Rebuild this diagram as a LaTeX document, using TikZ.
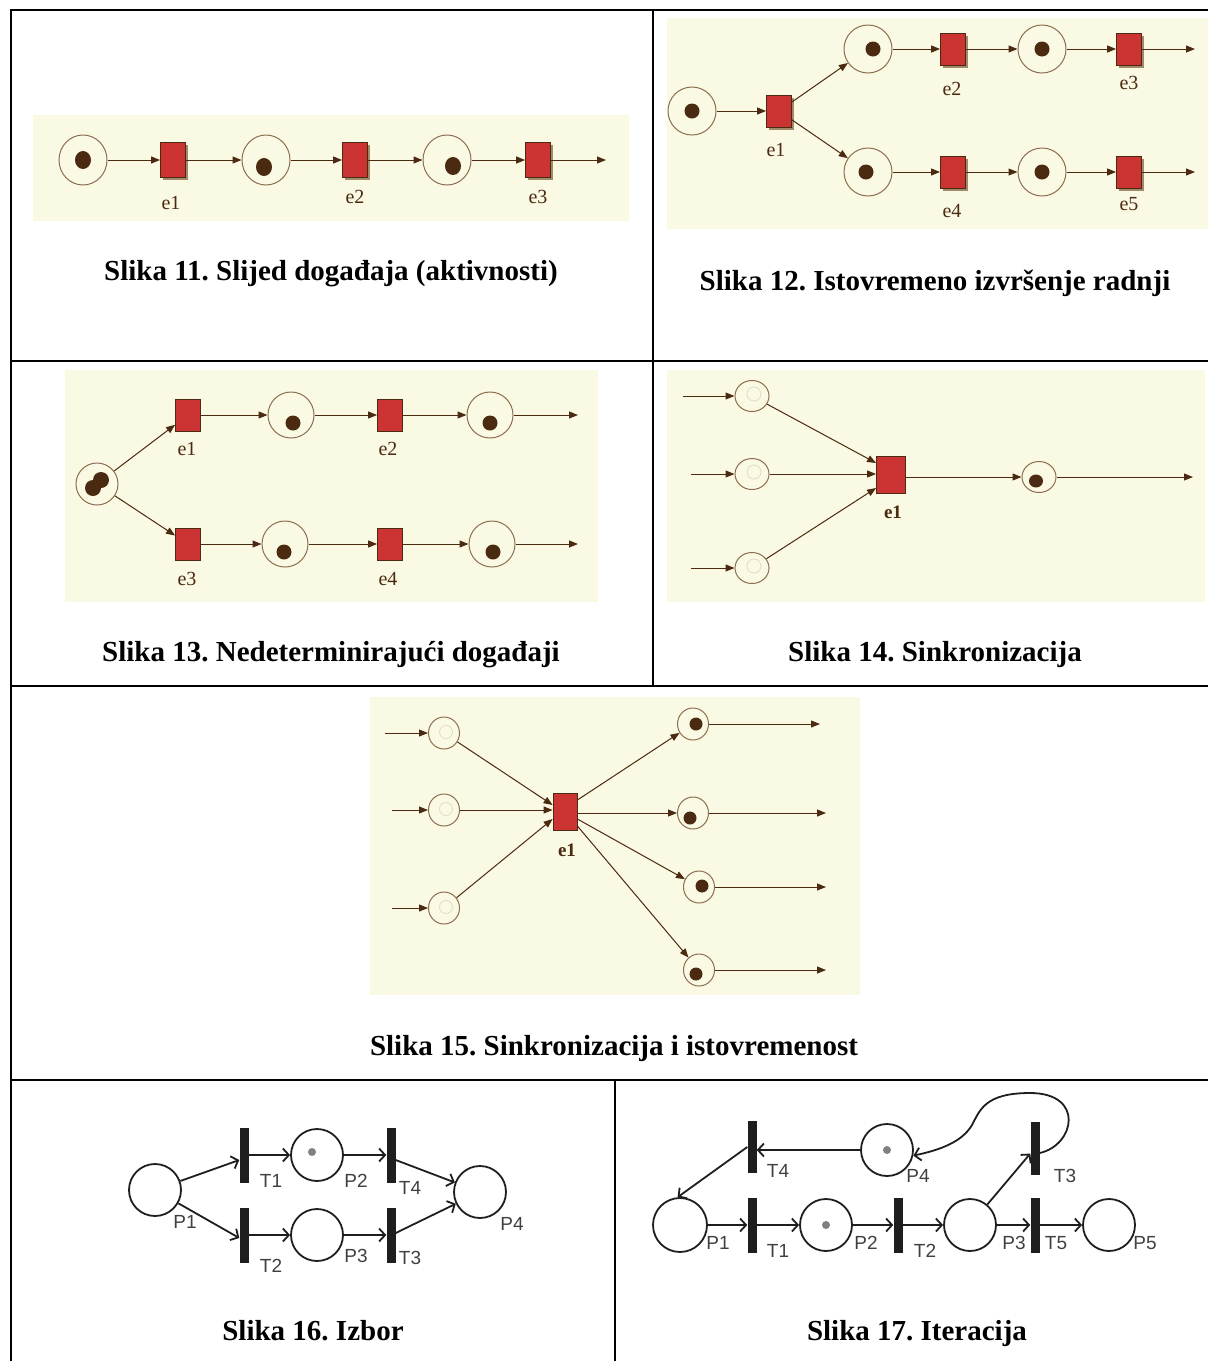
\documentclass[tikz,border=0pt]{standalone}
\usepackage{fontspec}
\setmainfont{Liberation Serif}
\setsansfont{Liberation Sans}
\frenchspacing
\usetikzlibrary{positioning,
	arrows.meta,
	shapes.geometric,
	shadows}
\definecolor{bgpetri}{HTML}{FAF9E3}
\definecolor{arcbrown}{HTML}{4A2A10}
\definecolor{ringbrown}{HTML}{8C6E50}
\definecolor{transred}{HTML}{CC3333}
\definecolor{shadowtan}{HTML}{A08A6A}
\definecolor{ghostring}{HTML}{E0DCC4}
\definecolor{netgray}{HTML}{1E1E1E}
\tikzset{
	place/.style={ellipse, draw=ringbrown, line width=1pt, minimum width=48pt, minimum height=50pt, inner sep=0pt},
	smallplace/.style={place, minimum width=34pt, minimum height=31pt},
	trans/.style={rectangle, draw=arcbrown, fill=transred, line width=0.8pt, minimum width=25pt, minimum height=35pt, inner sep=0pt},
	shadowtrans/.style={trans, drop shadow={shadow xshift=2.5pt, shadow yshift=-2.5pt, fill=shadowtan, opacity=1}},
	arc/.style={draw=arcbrown, line width=1pt, -{Triangle[length=9pt,width=7pt]}},
	token/.style={fill=arcbrown},
	ghost/.style={draw=ghostring, line width=0.8pt},
	elabel/.style={font=\fontsize{20}{20}\selectfont, text=arcbrown, inner sep=0pt},
	eboldlabel/.style={font=\bfseries\fontsize{19}{19}\selectfont, text=arcbrown, inner sep=0pt},
	pnplace/.style={circle, draw=netgray, line width=1.8pt, minimum size=52pt, inner sep=0pt},
	bar/.style={rectangle, fill=netgray, minimum width=9pt, minimum height=55pt, inner sep=0pt},
	pnarc/.style={draw=netgray, line width=1.8pt, -{Straight Barb[length=6pt,width=13pt]}},
	pnlabel/.style={font=\sffamily\fontsize{19}{19}\selectfont, text=netgray!85, inner sep=0pt},
	caption/.style={font=\bfseries\fontsize{29}{32}\selectfont, inner sep=0pt}
}

\begin{document}
\begin{tikzpicture}[x=1pt, y=-1pt]
	\useasboundingbox (0,0) rectangle (1208,1361);
	% table rules
	\draw[line width=2pt] (11,1361) -- (11,10) -- (1208,10);
	\draw[line width=2pt] (653,10) -- (653,686);
	\draw[line width=2pt] (11,361) -- (1208,361);
	\draw[line width=2pt] (11,686) -- (1208,686);
	\draw[line width=2pt] (11,1080) -- (1208,1080);
	\draw[line width=2pt] (615,1080) -- (615,1361);

	% Slika 11
	\fill[bgpetri] (33,115) rectangle (629,221);
	\node[place] (pA) at (83,160) {};
	\node[shadowtrans] (tA) at (173,160) {};
	\node[place] (pB) at (266,160) {};
	\node[shadowtrans] (tB) at (355,160) {};
	\node[place] (pC) at (447,160) {};
	\node[shadowtrans] (tC) at (538,160) {};
	\coordinate (endA) at (606,160);
	\fill[token] (pA.center) ellipse (8pt and 9pt);
	\fill[token] (pB.center) ++(-2,7) ellipse (8pt and 9pt);
	\fill[token] (pC.center) ++(6,6) ellipse (8pt and 9pt);
	\draw[arc] (pA) -- (tA);
	\draw[arc] (tA) -- (pB);
	\draw[arc] (pB) -- (tB);
	\draw[arc] (tB) -- (pC);
	\draw[arc] (pC) -- (tC);
	\draw[arc] (tC) -- (endA);
	\node[elabel] (lA1) at (171,203) {e1};
	\node[elabel] (lA2) at (355,197) {e2};
	\node[elabel] (lA3) at (538,197) {e3};
	\node[caption] (capA) at (331,274) {Slika 11. Slijed događaja (aktivnosti)};

	% Slika 12
	\fill[bgpetri] (667,18) rectangle (1208,229);
	\node[place, minimum height=48pt] (q0) at (692,111) {};
	\node[shadowtrans, minimum height=32pt] (te1) at (779,111) {};
	\node[place, minimum height=48pt] (q1) at (868,49) {};
	\node[shadowtrans, minimum height=32pt] (te2) at (953,49) {};
	\node[place, minimum height=48pt] (q2) at (1042,49) {};
	\node[shadowtrans, minimum height=32pt] (te3) at (1129,49) {};
	\node[place, minimum height=48pt] (q3) at (868,172) {};
	\node[shadowtrans, minimum height=32pt] (te4) at (953,172) {};
	\node[place, minimum height=48pt] (q4) at (1042,172) {};
	\node[shadowtrans, minimum height=32pt] (te5) at (1129,172) {};
	\coordinate (endB1) at (1195,49);
	\coordinate (endB2) at (1195,172);
	\foreach \p/\dx in {q0/0, q1/5, q2/0, q3/-2, q4/0}
		\fill[token] (\p.center) ++(\dx,0) circle (7.5pt);
	\draw[arc] (q0) -- (te1);
	\draw[arc] (te1) -- (q1);
	\draw[arc] (te1) -- (q3);
	\draw[arc] (q1) -- (te2);
	\draw[arc] (te2) -- (q2);
	\draw[arc] (q2) -- (te3);
	\draw[arc] (te3) -- (endB1);
	\draw[arc] (q3) -- (te4);
	\draw[arc] (te4) -- (q4);
	\draw[arc] (q4) -- (te5);
	\draw[arc] (te5) -- (endB2);
	\node[elabel] (lB1) at (776,150) {e1};
	\node[elabel] (lB2) at (952,89) {e2};
	\node[elabel] (lB3) at (1129,83) {e3};
	\node[elabel] (lB4) at (952,211) {e4};
	\node[elabel] (lB5) at (1129,204) {e5};
	\node[caption] (capB) at (935,283) {Slika 12. Istovremeno izvršenje radnji};

	% Slika 13
	\fill[bgpetri] (65,370) rectangle (598,602);
	\node[place, minimum width=42pt, minimum height=42pt] (s0) at (97,484) {};
	\node[trans, minimum height=32pt] (u1) at (188,415) {};
	\node[place, minimum width=46pt, minimum height=46pt] (s1) at (291,415) {};
	\node[trans, minimum height=32pt] (u2) at (390,415) {};
	\node[place, minimum width=46pt, minimum height=46pt] (s2) at (490,415) {};
	\node[trans, minimum height=32pt] (u3) at (188,544) {};
	\node[place, minimum width=46pt, minimum height=46pt] (s3) at (285,544) {};
	\node[trans, minimum height=32pt] (u4) at (390,544) {};
	\node[place, minimum width=46pt, minimum height=46pt] (s4) at (492,544) {};
	\coordinate (endC1) at (578,415);
	\coordinate (endC2) at (578,544);
	\fill[token] (s0.center) ++(-4,4) circle (8pt);
	\fill[token] (s0.center) ++(4,-4) circle (8pt);
	\foreach \p/\dx in {s1/2, s2/0, s3/-1, s4/1}
		\fill[token] (\p.center) ++(\dx,8) circle (7.5pt);
	\draw[arc] (s0) -- (u1);
	\draw[arc] (s0) -- (u3);
	\draw[arc] (u1) -- (s1);
	\draw[arc] (s1) -- (u2);
	\draw[arc] (u2) -- (s2);
	\draw[arc] (s2) -- (endC1);
	\draw[arc] (u3) -- (s3);
	\draw[arc] (s3) -- (u4);
	\draw[arc] (u4) -- (s4);
	\draw[arc] (s4) -- (endC2);
	\node[elabel] (lC1) at (187,449) {e1};
	\node[elabel] (lC2) at (388,449) {e2};
	\node[elabel] (lC3) at (187,579) {e3};
	\node[elabel] (lC4) at (388,579) {e4};
	\node[caption] (capC) at (331,655) {Slika 13. Nedeterminirajući događaji};

	% Slika 14
	\fill[bgpetri] (667,370) rectangle (1205,602);
	\node[smallplace] (a1) at (752,396) {};
	\node[smallplace] (a2) at (752,474) {};
	\node[smallplace] (a3) at (752,568) {};
	\node[trans, minimum width=29pt, minimum height=37pt] (f1) at (891,475) {};
	\node[smallplace] (a4) at (1039,477) {};
	\coordinate (startD1) at (683,396);
	\coordinate (startD2) at (691,474);
	\coordinate (startD3) at (691,568);
	\coordinate (endD) at (1193,477);
	\foreach \p in {a1, a2, a3}
		\draw[ghost] (\p.center) ++(2,-2) circle (7pt);
	\fill[token] (a4.center) ++(-3,4) ellipse (7pt and 6.5pt);
	\draw[arc] (startD1) -- (a1);
	\draw[arc] (startD2) -- (a2);
	\draw[arc] (startD3) -- (a3);
	\draw[arc] (a1) -- ([yshift=12pt]f1.west);
	\draw[arc] (a2) -- (f1.west |- a2);
	\draw[arc] (a3) -- ([yshift=-13pt]f1.west);
	\draw[arc] (f1.east |- a4) -- (a4);
	\draw[arc] (a4) -- (endD);
	\node[eboldlabel] (lD1) at (893,512) {e1};
	\node[caption] (capD) at (935,655) {Slika 14. Sinkronizacija};

	% Slika 15
	\fill[bgpetri] (370,697) rectangle (860,995);
	\node[smallplace, minimum width=31pt, minimum height=32pt] (b1) at (444,733) {};
	\node[smallplace, minimum width=31pt, minimum height=32pt] (b2) at (444,810) {};
	\node[smallplace, minimum width=31pt, minimum height=32pt] (b3) at (444,908) {};
	\node[trans, minimum width=24pt, minimum height=37pt] (g1) at (565,812) {};
	\node[smallplace, minimum width=31pt, minimum height=32pt] (c1) at (693,724) {};
	\node[smallplace, minimum width=31pt, minimum height=32pt] (c2) at (693,813) {};
	\node[smallplace, minimum width=31pt, minimum height=32pt] (c3) at (699,887) {};
	\node[smallplace, minimum width=31pt, minimum height=32pt] (c4) at (699,970) {};
	\coordinate (startE1) at (385,733);
	\coordinate (startE2) at (392,810);
	\coordinate (startE3) at (392,908);
	\coordinate (endE1) at (820,724);
	\coordinate (endE2) at (826,813);
	\coordinate (endE3) at (826,887);
	\coordinate (endE4) at (826,970);
	\foreach \p in {b1, b2, b3}
		\draw[ghost] (\p.center) ++(2,-1) circle (6.5pt);
	\foreach \p/\dx/\dy in {c1/3/0, c2/-3/5, c3/3/-1, c4/-3/4}
		\fill[token] (\p.center) ++(\dx,\dy) circle (6.5pt);
	\draw[arc] (startE1) -- (b1);
	\draw[arc] (startE2) -- (b2);
	\draw[arc] (startE3) -- (b3);
	\draw[arc] (b1) -- ([yshift=7pt]g1.west);
	\draw[arc] (b2) -- (g1.west |- b2);
	\draw[arc] (b3) -- ([yshift=-7pt]g1.west);
	\draw[arc] ([yshift=12pt]g1.east) -- (c1);
	\draw[arc] (g1.east |- c2) -- (c2);
	\draw[arc] ([yshift=-7pt]g1.east) -- (c3);
	\draw[arc] ([yshift=-14pt]g1.east) -- (c4);
	\draw[arc] (c1) -- (endE1);
	\draw[arc] (c2) -- (endE2);
	\draw[arc] (c3) -- (endE3);
	\draw[arc] (c4) -- (endE4);
	\node[eboldlabel] (lE1) at (567,850) {e1};
	\node[caption] (capE) at (614,1049) {Slika 15. Sinkronizacija i istovremenost};

	% Slika 16
	\node[pnplace] (P1) at (155,1190) {};
	\node[bar] (T1) at (244,1155) {};
	\node[pnplace] (P2) at (317,1155) {};
	\node[bar] (T4) at (391,1155) {};
	\node[pnplace] (P4) at (480,1192) {};
	\node[bar] (T2) at (244,1235) {};
	\node[pnplace] (P3) at (317,1235) {};
	\node[bar] (T3) at (391,1235) {};
	\fill[gray] (P2.center) ++(-5,-3) circle (4pt);
	\draw[pnarc] (P1) -- ([yshift=-5pt]T1.west);
	\draw[pnarc] (P1) -- ([yshift=-3pt]T2.west);
	\draw[pnarc] (T1) -- (P2);
	\draw[pnarc] (T2) -- (P3);
	\draw[pnarc] (P2) -- (T4);
	\draw[pnarc] (P3) -- (T3);
	\draw[pnarc] ([yshift=-5pt]T4.east) -- (P4);
	\draw[pnarc] ([yshift=2pt]T3.east) -- (P4);
	\node[pnlabel] (lP1) at (185,1222) {P1};
	\node[pnlabel] (lT1) at (271,1181) {T1};
	\node[pnlabel] (lP2) at (356,1181) {P2};
	\node[pnlabel] (lT4) at (410,1188) {T4};
	\node[pnlabel] (lP4) at (512,1224) {P4};
	\node[pnlabel] (lT2) at (271,1266) {T2};
	\node[pnlabel] (lP3) at (356,1256) {P3};
	\node[pnlabel] (lT3) at (410,1258) {T3};
	\node[caption] (capF) at (313,1331) {Slika 16. Izbor};

	% Slika 17
	\node[pnplace, minimum size=54pt] (Q1) at (680,1225) {};
	\node[bar] (U1) at (752,1225) {};
	\node[pnplace] (Q2) at (826,1225) {};
	\node[bar] (U2) at (898,1225) {};
	\node[pnplace] (Q3) at (970,1225) {};
	\node[bar] (U5) at (1035,1225) {};
	\node[pnplace] (Q5) at (1109,1225) {};
	\node[bar, minimum height=52pt] (U4) at (752,1147) {};
	\node[pnplace] (Q4) at (887,1150) {};
	\node[bar, minimum height=53pt] (U3) at (1035,1148) {};
	\fill[gray] (Q2.center) circle (4pt);
	\fill[gray] (Q4.center) circle (4pt);
	\draw[pnarc] (Q1) -- (U1);
	\draw[pnarc] (U1) -- (Q2);
	\draw[pnarc] (Q2) -- (U2);
	\draw[pnarc] (U2) -- (Q3);
	\draw[pnarc] (Q3) -- (U5);
	\draw[pnarc] (U5) -- (Q5);
	\draw[pnarc] (Q3) -- (U3);
	\draw[pnarc] (Q4) -- (U4.east |- Q4);
	\draw[pnarc] (U4.west) -- (Q1.95);
	\draw[pnarc] ([yshift=-5pt]U3.east) .. controls (1075,1145) and (1085,1093) .. (1030,1093)
		.. controls (985,1093) and (980,1110) .. (972,1125)
		.. controls (962,1142) and (940,1150) .. (Q4.-12);
	\node[pnlabel] (lQ1) at (718,1243) {P1};
	\node[pnlabel] (lU1) at (778,1251) {T1};
	\node[pnlabel] (lQ2) at (866,1243) {P2};
	\node[pnlabel] (lU2) at (925,1251) {T2};
	\node[pnlabel] (lQ3) at (1014,1243) {P3};
	\node[pnlabel] (lU5) at (1056,1243) {T5};
	\node[pnlabel] (lQ5) at (1145,1243) {P5};
	\node[pnlabel] (lU4) at (778,1171) {T4};
	\node[pnlabel] (lQ4) at (918,1176) {P4};
	\node[pnlabel] (lU3) at (1065,1176) {T3};
	\node[caption] (capG) at (917,1334) {Slika 17. Iteracija};
\end{tikzpicture}
\end{document}
